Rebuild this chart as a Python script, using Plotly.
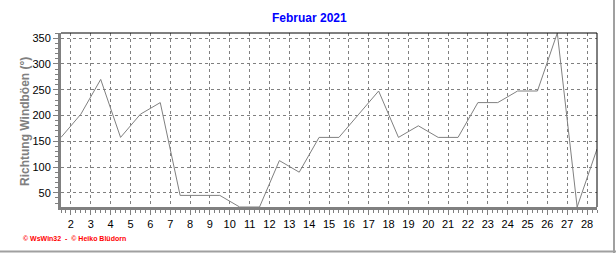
import plotly.graph_objects as go

# data
days = list(range(1, 29))
direction = [157.5, 202.5, 270, 157.5, 202.5, 225, 45, 45, 45, 22.5, 22.5, 112.5, 90,
             157.5, 157.5, 202.5, 247.5, 157.5, 180, 157.5, 157.5, 225, 225, 247.5,
             247.5, 360, 22.5, 135]
x_ticks = list(range(2, 29))
y_ticks = [50, 100, 150, 200, 250, 300, 350]
title_text = "Februar 2021"
y_title = "Richtung Windböen (°)"
credit = "© WsWin32  -  © Heiko Blüdorn"

# daily values plotted at noon of each day
x_pos = [d + 0.5 for d in days]

W, H = 616, 253
L, R, T, B = 61, 19, 33, 46
pw, ph = W - L - R, H - T - B

def px(xp):
    return (xp - L) / pw

def py(yp):
    return (H - B - yp) / ph

fig = go.Figure()
fig.add_trace(go.Scatter(x=x_pos, y=direction, mode="lines",
                         line=dict(color="#808080", width=1), hoverinfo="skip",
                         cliponaxis=True))

font = "Liberation Sans, Arial, sans-serif"
fig.update_layout(
    width=W, height=H, margin=dict(l=L, r=R, t=T, b=B),
    paper_bgcolor="white", plot_bgcolor="white", showlegend=False,
    font=dict(family=font, size=11, color="black"),
    xaxis=dict(range=[1.5, 28.5], tickmode="array", tickvals=x_ticks,
               ticktext=[str(v) for v in x_ticks],
               showgrid=True, gridcolor="#808080", gridwidth=1, griddash="3px,3px",
               zeroline=False, showline=True, linecolor="#808080", linewidth=3,
               ticks="outside", ticklen=5, tickcolor="#808080", tickwidth=1,
               tickfont=dict(size=11, family=font, color="black"),
               minor=dict(dtick=0.25, tick0=0, ticks="outside", ticklen=3,
                          tickcolor="#808080", showgrid=False),
               fixedrange=True),
    yaxis=dict(range=[22.5, 360], tickmode="array", tickvals=y_ticks,
               showgrid=True, gridcolor="#808080", gridwidth=1, griddash="3px,3px",
               zeroline=False, showline=True, linecolor="#808080", linewidth=3,
               ticks="outside", ticklen=5, tickcolor="#808080", tickwidth=1,
               tickfont=dict(size=11, family=font, color="black"),
               minor=dict(dtick=10, tick0=0, ticks="outside", ticklen=3,
                          tickcolor="#808080", showgrid=False),
               fixedrange=True),
    shapes=[
        dict(type="line", xref="paper", yref="paper", x0=0, x1=1, y0=1, y1=1,
             line=dict(color="black", width=1)),
        dict(type="line", xref="paper", yref="paper", x0=1, x1=1, y0=0, y1=1,
             line=dict(color="black", width=1)),
        dict(type="line", xref="paper", yref="paper", x0=px(614), x1=px(614),
             y0=py(0), y1=py(253), line=dict(color="#a0a0a0", width=2)),
        dict(type="line", xref="paper", yref="paper", x0=px(0), x1=px(616),
             y0=py(251.5), y1=py(251.5), line=dict(color="#a0a0a0", width=2)),
    ],
    annotations=[
        dict(text="<b>" + title_text + "</b>", xref="paper", yref="paper",
             x=px(309), y=py(18), showarrow=False, xanchor="center", yanchor="middle",
             font=dict(size=12, color="#0000ff", family=font)),
        dict(text="<b>" + y_title + "</b>", xref="paper", yref="paper",
             x=px(25), y=py(122), showarrow=False, textangle=-90,
             xanchor="center", yanchor="middle",
             font=dict(size=12, color="#808080", family=font)),
        dict(text="<b>" + credit + "</b>", xref="paper", yref="paper",
             x=px(21), y=py(238), showarrow=False, xanchor="left", yanchor="middle",
             font=dict(size=7, color="#ff0000", family=font)),
    ],
)

fig.write_html("out.html")
